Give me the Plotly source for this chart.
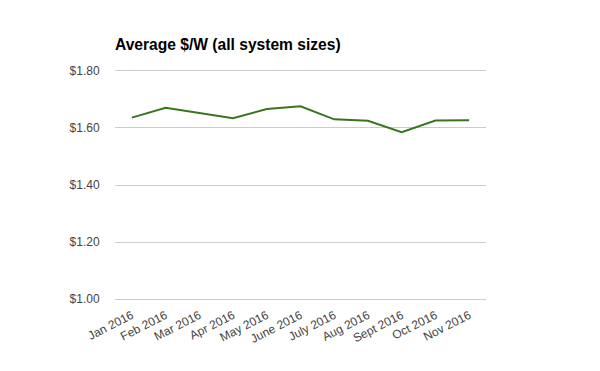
import plotly.graph_objects as go

months = ["Jan 2016", "Feb 2016", "Mar 2016", "Apr 2016", "May 2016", "June 2016",
          "July 2016", "Aug 2016", "Sept 2016", "Oct 2016", "Nov 2016"]
avg_price = [1.636, 1.671, 1.652, 1.634, 1.666, 1.676, 1.630, 1.625, 1.585, 1.626, 1.627]
y_ticks = [1.00, 1.20, 1.40, 1.60, 1.80]
y_tick_labels = ["$1.00", "$1.20", "$1.40", "$1.60", "$1.80"]

fig = go.Figure()
fig.add_trace(go.Scatter(
    x=months, y=avg_price, mode="lines",
    line=dict(color="#38761d", width=2),
    hoverinfo="x+y",
))

fig.update_layout(
    width=600, height=371,
    margin=dict(l=115, r=114, t=68, b=69, autoexpand=False),
    paper_bgcolor="white", plot_bgcolor="white",
    font=dict(family="Liberation Sans, Arial, sans-serif", color="#444444", size=12),
    title=dict(
        text="<b>Average $/W (all system sizes)</b>",
        font=dict(family="Liberation Sans, Arial, sans-serif", size=15.6, color="#000000"),
        x=115 / 600, xanchor="left", xref="container",
        y=1 - 45 / 371, yanchor="middle", yref="container",
    ),
    showlegend=False,
    xaxis=dict(
        type="category", range=[-0.5, len(months) - 0.5], automargin=False,
        showgrid=False, showline=False, zeroline=False,
        tickangle=-27, ticks="outside", ticklen=1, tickcolor="rgba(0,0,0,0)",
        tickfont=dict(size=12, color="#444444"),
    ),
    yaxis=dict(
        range=[0.99, 1.81], tickvals=y_ticks, ticktext=y_tick_labels, automargin=False,
        showgrid=True, gridcolor="#cccccc", gridwidth=1,
        zeroline=False, showline=False,
        ticks="outside", ticklen=12, tickcolor="rgba(0,0,0,0)",
        tickfont=dict(size=12, color="#444444"),
    ),
)

fig.write_html("out.html", config={"displayModeBar": False},
               post_script="document.body.style.margin='0';")
